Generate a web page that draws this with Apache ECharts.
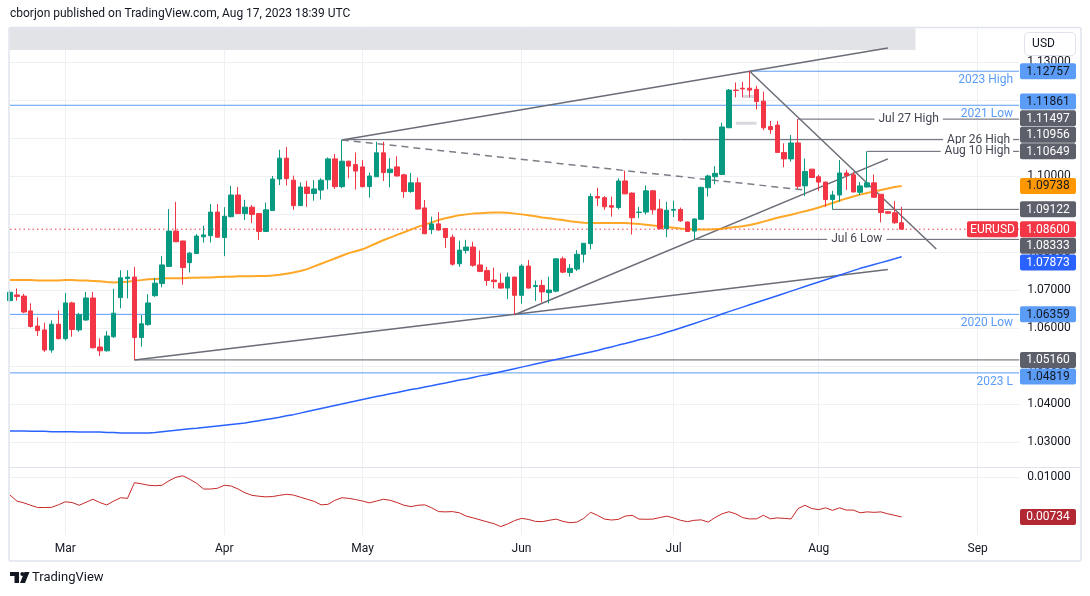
<!DOCTYPE html>
<html><head><meta charset="utf-8">
<script src="https://cdn.jsdelivr.net/npm/echarts@6.0.0/dist/echarts.min.js"></script>
<style>html,body{margin:0;padding:0;background:#fff;}#c{width:1090px;height:596px;}</style>
</head><body><div id="c"></div>
<script>
const dates = [
'2023-02-17','2023-02-20','2023-02-21','2023-02-22','2023-02-23','2023-02-24','2023-02-27','2023-02-28',
'2023-03-01','2023-03-02','2023-03-03','2023-03-06','2023-03-07','2023-03-08','2023-03-09','2023-03-10','2023-03-13','2023-03-14','2023-03-15','2023-03-16','2023-03-17','2023-03-20','2023-03-21','2023-03-22','2023-03-23','2023-03-24','2023-03-27','2023-03-28','2023-03-29','2023-03-30','2023-03-31',
'2023-04-03','2023-04-04','2023-04-05','2023-04-06','2023-04-07','2023-04-10','2023-04-11','2023-04-12','2023-04-13','2023-04-14','2023-04-17','2023-04-18','2023-04-19','2023-04-20','2023-04-21','2023-04-24','2023-04-25','2023-04-26','2023-04-27','2023-04-28',
'2023-05-01','2023-05-02','2023-05-03','2023-05-04','2023-05-05','2023-05-08','2023-05-09','2023-05-10','2023-05-11','2023-05-12','2023-05-15','2023-05-16','2023-05-17','2023-05-18','2023-05-19','2023-05-22','2023-05-23','2023-05-24','2023-05-25','2023-05-26','2023-05-29','2023-05-30','2023-05-31',
'2023-06-01','2023-06-02','2023-06-05','2023-06-06','2023-06-07','2023-06-08','2023-06-09','2023-06-12','2023-06-13','2023-06-14','2023-06-15','2023-06-16','2023-06-19','2023-06-20','2023-06-21','2023-06-22','2023-06-23','2023-06-26','2023-06-27','2023-06-28','2023-06-29','2023-06-30',
'2023-07-03','2023-07-04','2023-07-05','2023-07-06','2023-07-07','2023-07-10','2023-07-11','2023-07-12','2023-07-13','2023-07-14','2023-07-17','2023-07-18','2023-07-19','2023-07-20','2023-07-21','2023-07-24','2023-07-25','2023-07-26','2023-07-27','2023-07-28','2023-07-31',
'2023-08-01','2023-08-02','2023-08-03','2023-08-04','2023-08-07','2023-08-08','2023-08-09','2023-08-10','2023-08-11','2023-08-14','2023-08-15','2023-08-16','2023-08-17',
'2023-08-18','2023-08-21','2023-08-22','2023-08-23','2023-08-24','2023-08-25','2023-08-28','2023-08-29','2023-08-30','2023-08-31',
'2023-09-01','2023-09-04','2023-09-05','2023-09-06','2023-09-07','2023-09-08','2023-09-11'];

const opens = [1.0672,1.0687,1.0684,1.0645,1.0605,1.0595,1.0542,1.0610,
1.0572,1.0666,1.0595,1.0621,1.0679,1.0550,1.0540,1.0577,1.0680,1.0730,1.0734,1.0575,1.0609,1.0685,1.0717,1.0762,1.0855,1.0829,1.0772,1.0796,1.0840,1.0843,1.0905,
1.0838,1.0893,1.0950,1.0901,1.0918,1.0901,1.0854,1.0909,1.0992,1.1047,1.0989,1.0922,1.0971,1.0954,1.0963,1.0990,1.1045,1.0972,1.1039,1.1030,
1.1024,1.0972,1.0998,1.1061,1.1009,1.1024,1.1003,1.0959,1.0982,1.0916,1.0859,1.0874,1.0862,1.0839,1.0769,1.0804,1.0813,1.0766,1.0751,1.0726,1.0718,1.0705,1.0734,
1.0686,1.0763,1.0709,1.0712,1.0693,1.0697,1.0782,1.0746,1.0755,1.0794,1.0822,1.0946,1.0943,1.0922,1.0917,1.0987,1.0955,1.0904,1.0905,1.0961,1.0913,1.0862,
1.0910,1.0912,1.0879,1.0855,1.0886,1.0969,1.0998,1.1004,1.1127,1.1226,1.1231,1.1231,1.1228,1.1197,1.1130,1.1134,1.1062,1.1045,1.1087,1.0974,1.1018,
1.0998,1.0984,1.0938,1.0950,1.1008,1.1003,1.0957,1.0971,1.0982,1.0952,1.0906,1.0903,1.0877];
const highs = [1.0700,1.0704,1.0690,1.0665,1.0628,1.0614,1.0620,1.0646,
1.0692,1.0669,1.0640,1.0695,1.0695,1.0573,1.0592,1.0703,1.0752,1.0752,1.0761,1.0634,1.0689,1.0732,1.0789,1.0913,1.0932,1.0830,1.0800,1.0847,1.0869,1.0926,1.0926,
1.0918,1.0974,1.0971,1.0937,1.0924,1.0902,1.0930,1.1000,1.1069,1.1076,1.1001,1.0983,1.0987,1.0989,1.0994,1.1049,1.1058,1.1095,1.1040,1.1062,
1.1042,1.1009,1.1090,1.1090,1.1047,1.1052,1.1006,1.1008,1.0996,1.0937,1.0893,1.0905,1.0863,1.0846,1.0830,1.0832,1.0827,1.0804,1.0761,1.0759,1.0744,1.0746,1.0735,
1.0768,1.0779,1.0725,1.0727,1.0735,1.0783,1.0788,1.0768,1.0805,1.0823,1.0954,1.0969,1.0947,1.0946,1.0994,1.1014,1.0957,1.0919,1.0975,1.0963,1.0939,1.0932,
1.0935,1.0917,1.0880,1.0888,1.0972,1.1003,1.1026,1.1140,1.1229,1.1246,1.1248,1.12757,1.1237,1.1222,1.1145,1.1145,1.1086,1.1108,1.11497,1.1046,1.1019,
1.1003,1.0985,1.0961,1.1042,1.1016,1.1011,1.0984,1.10649,1.1004,1.0952,1.0907,1.0934,1.0919];
const lows = [1.0669,1.0672,1.0639,1.0601,1.0579,1.0537,1.0535,1.0570,
1.0567,1.0577,1.0590,1.0619,1.0546,1.0526,1.0538,1.0574,1.0652,1.0678,1.0516,1.0551,1.0606,1.0682,1.0707,1.0761,1.0826,1.0714,1.0746,1.0795,1.0825,1.0825,1.0838,
1.0789,1.0891,1.0900,1.0884,1.0876,1.0832,1.0853,1.0908,1.0976,1.0975,1.0911,1.0921,1.0919,1.0935,1.0938,1.0965,1.0966,1.0968,1.0994,1.0964,
1.0970,1.0943,1.0998,1.0987,1.0970,1.0999,1.0942,1.0956,1.0912,1.0847,1.0847,1.0856,1.0811,1.0764,1.0761,1.0796,1.0761,1.0747,1.0711,1.0704,1.0704,1.0676,1.0635,
1.0664,1.0704,1.0671,1.0667,1.0665,1.0694,1.0744,1.0735,1.0750,1.0772,1.0807,1.0921,1.0911,1.0893,1.0912,1.0952,1.0846,1.0889,1.0899,1.0899,1.0860,1.0839,
1.0892,1.0879,1.0853,1.0833,1.0885,1.0946,1.0978,1.1003,1.1126,1.1207,1.1207,1.1207,1.1175,1.1121,1.1111,1.1062,1.1023,1.1038,1.0966,1.0947,1.0995,
1.0961,1.0919,1.0912,1.0932,1.0963,1.0957,1.0950,1.0970,1.0943,1.0878,1.0900,1.0874,1.0860];
const closes = [1.0694,1.0683,1.0642,1.0604,1.0593,1.0542,1.0610,1.0572,
1.0666,1.0596,1.0635,1.0679,1.0548,1.0540,1.0579,1.0639,1.0732,1.0734,1.0575,1.0611,1.0666,1.0718,1.0766,1.0855,1.0827,1.0759,1.0797,1.0842,1.0845,1.0905,1.0839,
1.0894,1.0950,1.0901,1.0918,1.0899,1.0854,1.0911,1.0992,1.1047,1.0993,1.0922,1.0971,1.0954,1.0966,1.0989,1.1045,1.0972,1.1039,1.1026,1.1013,
1.0972,1.1000,1.1061,1.1009,1.1018,1.1000,1.0959,1.0982,1.0913,1.0848,1.0874,1.0858,1.0838,1.0768,1.0805,1.0813,1.0765,1.0749,1.0725,1.0722,1.0705,1.0734,1.0686,
1.0763,1.0705,1.0712,1.0695,1.0700,1.0782,1.0747,1.0757,1.0794,1.0823,1.0946,1.0942,1.0919,1.0918,1.0987,1.0953,1.0890,1.0905,1.0961,1.0911,1.0861,1.0910,
1.0912,1.0882,1.0854,1.0887,1.0970,1.1000,1.1007,1.1129,1.1226,1.1225,1.1229,1.1226,1.1196,1.1127,1.1122,1.1062,1.1045,1.1087,1.0973,1.1012,1.0996,
1.0984,1.0938,1.0950,1.1008,1.1001,1.0958,1.0974,1.0982,1.0944,1.0904,1.0902,1.0877,1.0860];
const ma50 = [1.0726,1.0726,1.0726,1.0726,1.0725,1.0725,1.0725,1.0725,
1.0726,1.0726,1.0725,1.0725,1.0724,1.0723,1.0721,1.0720,1.0721,1.0722,1.0724,1.0726,1.0728,1.0729,1.0730,1.0731,1.0731,1.0731,1.0732,1.0732,1.0733,1.0733,1.0734,
1.0735,1.0735,1.0736,1.0736,1.0736,1.0737,1.0737,1.0738,1.0740,1.0743,1.0746,1.0750,1.0755,1.0762,1.0769,1.0776,1.0783,1.0790,1.0797,1.0802,
1.0807,1.0815,1.0823,1.0831,1.0838,1.0845,1.0852,1.0859,1.0866,1.0872,1.0878,1.0884,1.0889,1.0893,1.0897,1.0899,1.0901,1.0902,1.0903,1.0904,1.0904,1.0903,1.0901,
1.0899,1.0897,1.0894,1.0891,1.0889,1.0886,1.0884,1.0881,1.0879,1.0877,1.0876,1.0876,1.0876,1.0876,1.0876,1.0876,1.0875,1.0874,1.0872,1.0870,1.0868,1.0866,
1.0864,1.0862,1.0860,1.0860,1.0859,1.0859,1.0860,1.0861,1.0864,1.0866,1.0868,1.0871,1.0875,1.0880,1.0885,1.0890,1.0894,1.0898,1.0903,1.0907,1.0912,
1.0917,1.0923,1.0929,1.0935,1.0941,1.0946,1.0951,1.0955,1.0959,1.0963,1.0967,1.0971,1.09738];
const ma200 = [1.0329,1.0329,1.0329,1.0328,1.0328,1.0328,1.0327,1.0327,
1.0327,1.0327,1.0326,1.0326,1.0326,1.0326,1.0325,1.0325,1.0324,1.0324,1.0324,1.0324,1.0324,1.0325,1.0327,1.0329,1.0331,1.0333,1.0335,1.0336,1.0338,1.0340,1.0342,
1.0344,1.0346,1.0348,1.0350,1.0353,1.0356,1.0359,1.0362,1.0365,1.0369,1.0372,1.0376,1.0380,1.0384,1.0388,1.0392,1.0396,1.0400,1.0404,1.0408,
1.0412,1.0416,1.0420,1.0423,1.0427,1.0430,1.0434,1.0438,1.0441,1.0445,1.0448,1.0452,1.0455,1.0459,1.0463,1.0466,1.0470,1.0474,1.0477,1.0481,1.0485,1.0489,1.0493,
1.0497,1.0501,1.0505,1.0509,1.0513,1.0517,1.0521,1.0525,1.0529,1.0533,1.0537,1.0541,1.0546,1.0550,1.0555,1.0559,1.0564,1.0569,1.0573,1.0578,1.0583,1.0589,
1.0594,1.0600,1.0606,1.0612,1.0618,1.0624,1.0630,1.0637,1.0643,1.0649,1.0655,1.0661,1.0667,1.0673,1.0679,1.0685,1.0691,1.0697,1.0703,1.0709,1.0715,
1.0721,1.0727,1.0733,1.0739,1.0745,1.0751,1.0757,1.0762,1.0767,1.0772,1.0777,1.0782,1.07873];
const atr = [0.00880,0.00840,0.00828,0.00812,0.00797,0.00797,0.00798,0.00815,
0.00835,0.00830,0.00812,0.00832,0.00852,0.00830,0.00814,0.00840,0.00862,0.00858,0.00962,0.00955,0.00945,0.00942,0.00945,0.00975,0.00998,0.01008,0.00985,0.00958,0.00920,0.00920,0.00925,
0.00945,0.00940,0.00920,0.00895,0.00878,0.00872,0.00868,0.00870,0.00878,0.00885,0.00880,0.00866,0.00852,0.00838,0.00815,0.00818,0.00845,0.00862,0.00858,0.00850,
0.00840,0.00828,0.00840,0.00852,0.00845,0.00830,0.00812,0.00803,0.00812,0.00815,0.00795,0.00770,0.00768,0.00770,0.00762,0.00740,0.00728,0.00715,0.00702,0.00690,0.00670,0.00688,0.00710,
0.00725,0.00718,0.00705,0.00703,0.00712,0.00720,0.00705,0.00696,0.00700,0.00725,0.00765,0.00745,0.00720,0.00714,0.00718,0.00740,0.00745,0.00720,0.00719,0.00720,0.00730,0.00740,
0.00728,0.00712,0.00703,0.00712,0.00715,0.00700,0.00730,0.00755,0.00769,0.00755,0.00730,0.00721,0.00722,0.00745,0.00722,0.00728,0.00725,0.00721,0.00790,0.00812,0.00790,
0.00783,0.00795,0.00778,0.00795,0.00780,0.00780,0.00762,0.00768,0.00765,0.00768,0.00755,0.00745,0.00734];

const priceTicks = [1.03,1.04,1.05,1.06,1.07,1.08,1.09,1.10,1.11,1.12,1.13];
const subTicks = [0.01];
const monthNames = ['Jan','Feb','Mar','Apr','May','Jun','Jul','Aug','Sep','Oct','Nov','Dec'];

// horizontal levels
const levelNames  = ['2023 High','2021 Low','Jul 27 High','Apr 26 High','Aug 10 High','','Jul 6 Low','2020 Low','','2023 L'];
const levelPrices = [1.12757,1.11861,1.11497,1.10956,1.10649,1.09122,1.08333,1.06359,1.05160,1.04819];
const levelStarts = ['2023-07-18','2023-02-17','2023-07-27','2023-04-26','2023-08-10','2023-08-03','2023-07-06','2023-02-17','2023-03-15','2023-02-17'];
// trend lines
const trendFrom  = ['2023-04-26','2023-04-26','2023-03-15','2023-05-31','2023-07-18'];
const trendFromP = [1.1095,1.1095,1.0516,1.0635,1.12757];
const trendTo    = ['2023-08-15','2023-07-28','2023-08-15','2023-08-15','2023-08-24'];
const trendToP   = [1.1337,1.0963,1.0754,1.1045,1.0808];
// light marks near the top
const markFrom = ['2023-07-14','2023-07-17'];
const markTo   = ['2023-07-19','2023-07-19'];
const markP    = [1.1139,1.1209];
// top band
const bandFrom = '2023-02-17', bandTo = '2023-08-21', bandLow = 1.13316;

const FONT = 'Roboto, "Noto Sans", sans-serif';
const BLUE_L = '#5b9cf6', DARK = '#5d606b', GRID = '#eef0f3';
const levelBlue = [true,true,false,false,false,false,false,true,false,true];
const lastDate = dates[dates.length-1];
const isMonthStart = (i) => i > 0 && dates[i].slice(5,7) !== dates[i-1].slice(5,7);

const chart = echarts.init(document.getElementById('c'), null, {renderer:'canvas'});
const candleData = opens.map((o,i)=>[o, closes[i], lows[i], highs[i]]);
const series = [];

series.push({type:'line', xAxisIndex:0, yAxisIndex:0, data:[], silent:true,
  markArea:{silent:true, itemStyle:{color:'#e1e3e6'}, data:[[{xAxis:bandFrom, yAxis:bandLow},{xAxis:bandTo, yAxis:1.1389}]]}, z:1});

levelPrices.forEach((p,k)=>{
  series.push({type:'line', xAxisIndex:0, yAxisIndex:0, silent:true, symbol:'none', z:3,
    data:[[levelStarts[k], p],[lastDate, p]],
    lineStyle:{color: levelBlue[k] ? BLUE_L : DARK, width:1}});
});
trendFrom.forEach((d,k)=>{
  series.push({type:'line', xAxisIndex:0, yAxisIndex:0, silent:true, symbol:'none', z:3,
    data:[[d, trendFromP[k]],[trendTo[k], trendToP[k]]],
    lineStyle:{color: k===1 ? '#7b7e88' : '#6a6d78', width:1.5, type: k===1 ? [7,5] : 'solid'}});
});
markFrom.forEach((d,k)=>{
  series.push({type:'line', xAxisIndex:0, yAxisIndex:0, silent:true, symbol:'none', z:3,
    data:[[d, markP[k]],[markTo[k], markP[k]]], lineStyle:{color:'#d6d8de', width:3}});
});
series.push({type:'line', xAxisIndex:0, yAxisIndex:0, silent:true, symbol:'none', z:3,
  data:[[dates[0], closes[closes.length-1]],[lastDate, closes[closes.length-1]]],
  lineStyle:{color:'#f23645', width:1, type:[1.5,3]}});
series.push({type:'line', xAxisIndex:0, yAxisIndex:0, silent:true, symbol:'none', z:4, data:ma50,
  lineStyle:{color:'#ff9800', width:2, opacity:0.85}});
series.push({type:'line', xAxisIndex:0, yAxisIndex:0, silent:true, symbol:'none', z:4, data:ma200,
  lineStyle:{color:'#2962ff', width:1.5}});
series.push({type:'candlestick', xAxisIndex:0, yAxisIndex:0, data:candleData, barWidth:5, clip:true, z:5,
  itemStyle:{color:'#089981', color0:'#f23645', borderColor:'#089981', borderColor0:'#f23645', borderWidth:1}});
series.push({type:'line', xAxisIndex:1, yAxisIndex:1, silent:true, symbol:'none', data:atr,
  lineStyle:{color:'#c62828', width:1}});

const xBase = {type:'category', data:dates, boundaryGap:false, axisLine:{show:false}, axisTick:{show:false},
  splitLine:{show:true, interval:isMonthStart, lineStyle:{color:GRID, width:1}}};

chart.setOption({
  animation:false, backgroundColor:'#ffffff', textStyle:{fontFamily:FONT},
  grid:[{left:10, right:70.8, top:28, height:439}, {left:10, right:70.8, top:468, height:67}],
  xAxis:[
    Object.assign({}, xBase, {gridIndex:0, axisLabel:{show:false}}),
    Object.assign({}, xBase, {gridIndex:1, axisLabel:{show:true, interval:isMonthStart, margin:8, color:'#131722', fontSize:12, fontFamily:FONT,
      formatter:(v)=>monthNames[parseInt(v.slice(5,7),10)-1]}})
  ],
  yAxis:[
    {type:'value', gridIndex:0, position:'right', min:1.023421, max:1.138947, axisLine:{show:false},
     axisTick:{show:false, customValues:priceTicks},
     axisLabel:{customValues:priceTicks, formatter:(v)=>v.toFixed(5), color:'#131722', fontSize:12, fontFamily:FONT, margin:8, align:'left'},
     splitLine:{show:true, lineStyle:{color:GRID}}},
    {type:'value', gridIndex:1, position:'right', min:0.006143, max:0.010598, axisLine:{show:false},
     axisTick:{show:false, customValues:subTicks},
     axisLabel:{customValues:subTicks, formatter:(v)=>v.toFixed(5), color:'#131722', fontSize:12, fontFamily:FONT, margin:8, align:'left'},
     splitLine:{show:true, lineStyle:{color:GRID}}}
  ],
  series: series
});

const py = (p)=>chart.convertToPixel({yAxisIndex:0}, p);
const py2 = (v)=>chart.convertToPixel({yAxisIndex:1}, v);
const px = (d)=>chart.convertToPixel({xAxisIndex:0}, d);
const xRight = px(lastDate);

const g = [];
function txt(t, x, y, color, align, extra){
  return Object.assign({type:'text', z:60, silent:true, style:Object.assign({text:t, x:x, y:y, fill:color,
    font:'12px ' + FONT, align:align, textAlign:align, verticalAlign:'middle', textVerticalAlign:'middle'}, extra||{})});
}
g.push(txt('cborjon published on TradingView.com, Aug 17, 2023 18:39 UTC', 10, 14, '#131722', 'left'));
g.push({type:'rect', z:50, silent:true, shape:{x:9, y:27.5, width:1072, height:533.5, r:2}, style:{fill:null, stroke:'#e0e3eb', lineWidth:1.5}});
g.push({type:'line', z:50, silent:true, shape:{x1:9, y1:467.5, x2:1081, y2:467.5}, style:{stroke:'#e0e3eb', lineWidth:1}});
g.push({type:'rect', z:60, silent:true, shape:{x:1024.5, y:32.5, width:51, height:23, r:4}, style:{fill:'#fff', stroke:'#e0e3eb', lineWidth:1}});
g.push(txt('USD', 1043.5, 44, '#131722', 'center'));

const labelPlace = {
  '2023 High':'below', '2021 Low':'below', '2020 Low':'below', '2023 L':'below',
  'Apr 26 High':'onRight', 'Aug 10 High':'onRight', 'Jul 27 High':'mid', 'Jul 6 Low':'mid'
};
levelNames.forEach((name,k)=>{
  if(!name) return;
  const y = py(levelPrices[k]);
  const m = labelPlace[name];
  if(m==='below') g.push(txt(name, 1013, y+8.7, BLUE_L, 'right'));
  else if(m==='onRight') g.push(txt(name, 1013, y, '#434651', 'right', {backgroundColor:'#fff', padding:[1,3,1,4]}));
  else {
    const xm = (px(levelStarts[k]) + xRight)/2;
    g.push(txt(name, xm, y, '#434651', 'center', {backgroundColor:'#fff', padding:[1,4,1,4]}));
  }
});

const lastClose = closes[closes.length-1];
const tags = [
  {v:levelPrices[0], bg:BLUE_L, fg:'#131722'},
  {v:levelPrices[1], bg:BLUE_L, fg:'#131722'},
  {v:levelPrices[2], bg:DARK, fg:'#fff'},
  {v:levelPrices[3], bg:DARK, fg:'#fff'},
  {v:levelPrices[4], bg:DARK, fg:'#fff', anchor:true},
  {v:ma50[ma50.length-1], bg:'#ff9800', fg:'#131722'},
  {v:levelPrices[5], bg:DARK, fg:'#fff'},
  {v:lastClose, bg:'#f23645', fg:'#fff', anchor:true, main:true},
  {v:levelPrices[6], bg:DARK, fg:'#fff'},
  {v:ma200[ma200.length-1], bg:'#2962ff', fg:'#fff'},
  {v:levelPrices[7], bg:BLUE_L, fg:'#131722'},
  {v:levelPrices[8], bg:DARK, fg:'#fff', anchor:true},
  {v:levelPrices[9], bg:BLUE_L, fg:'#131722'}
];
tags.forEach(t=>t.y = py(t.v));
const H = 16.6;
tags.sort((a,b)=>a.y-b.y);
let groups = tags.map(t=>({items:[t]}));
function place(gr){
  const n = gr.items.length;
  let ai = gr.items.findIndex(t=>t.main);
  if(ai<0) ai = gr.items.findIndex(t=>t.anchor);
  if(ai>=0){ gr.items.forEach((t,j)=>t.py = gr.items[ai].y + (j-ai)*H); }
  else { const mean = gr.items.reduce((s,t)=>s+t.y,0)/n; gr.items.forEach((t,j)=>t.py = mean + (j-(n-1)/2)*H); }
}
groups.forEach(place);
let changed = true;
while(changed){
  changed = false;
  for(let k=0;k<groups.length-1;k++){
    const a = groups[k], b = groups[k+1];
    if(b.items[0].py - a.items[a.items.length-1].py < H){
      a.items = a.items.concat(b.items); groups.splice(k+1,1); place(a); changed = true; break;
    }
  }
}
function tag(v, y, bg, fg, digits){
  g.push({type:'rect', z:70, silent:true, shape:{x:1020, y:y-8, width:56, height:16, r:2}, style:{fill:bg}});
  g.push(Object.assign(txt(v.toFixed(digits), 1048, y+0.5, fg, 'center'), {z:71}));
}
tags.forEach(t=>{
  tag(t.v, t.py, t.bg, t.fg, 5);
  if(t.main){
    g.push({type:'rect', z:70, silent:true, shape:{x:967, y:t.py-8, width:51, height:16, r:2}, style:{fill:'#f23645'}});
    g.push(Object.assign(txt('EURUSD', 992.5, t.py+0.5, '#fff', 'center'), {z:71}));
  }
});
tag(atr[atr.length-1], py2(atr[atr.length-1]), '#b22833', '#fff', 5);

g.push({type:'rect', z:60, silent:true, shape:{x:10, y:572, width:9, height:4}, style:{fill:'#131722'}});
g.push({type:'rect', z:60, silent:true, shape:{x:14.5, y:572, width:4.5, height:11}, style:{fill:'#131722'}});
g.push({type:'circle', z:60, silent:true, shape:{cx:22.3, cy:574, r:2}, style:{fill:'#131722'}});
g.push({type:'polygon', z:60, silent:true, shape:{points:[[24.5,572],[29.5,572],[25,583],[20,583]]}, style:{fill:'#131722'}});
g.push(txt('TradingView', 32, 578, '#131722', 'left', {font:'13px ' + FONT}));

chart.setOption({graphic:g});
</script>
</body></html>
